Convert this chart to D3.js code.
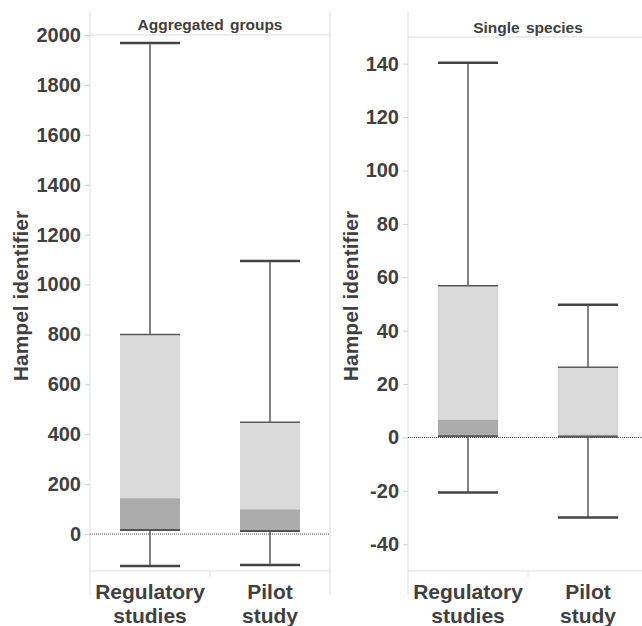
<!DOCTYPE html>
<html>
<head>
<meta charset="utf-8">
<script src="https://cdn.jsdelivr.net/npm/d3@7"></script>
<style>
  body { margin: 0; background: #fff; }
  svg { display: block; font-family: "Liberation Sans", Arial, sans-serif; }
</style>
</head>
<body>
<div id="chart"></div>
<script>
// categories on the x axis (same for both panels)
const categories = ["Regulatory studies", "Pilot study"];

// aggregated groups panel
const aggWhiskerLow = [-128, -124];
const aggBoxLow = [16, 12];
const aggMid = [144, 99];
const aggBoxHigh = [800, 448];
const aggWhiskerHigh = [1968, 1094];
const aggTicks = [0, 200, 400, 600, 800, 1000, 1200, 1400, 1600, 1800, 2000];

// single species panel
const spWhiskerLow = [-20.6, -30];
const spBoxLow = [0.5, 0.3];
const spMid = [6.7, 1.1];
const spBoxHigh = [56.8, 26.3];
const spWhiskerHigh = [140.4, 49.7];
const spTicks = [-40, -20, 0, 20, 40, 60, 80, 100, 120, 140];

const width = 642, height = 626;
const textColor = "#404040";

const svg = d3.select("#chart").append("svg")
    .attr("width", width)
    .attr("height", height);

// one panel = one box plot with its own y scale
const panels = [
    { title: "Aggregated groups", x0: 90, top: 35, domain: [-148, 2000], ticks: aggTicks,
      lo: aggWhiskerLow, q1: aggBoxLow, mid: aggMid, q3: aggBoxHigh, hi: aggWhiskerHigh,
      titleY: 30, labelX: 20, rightLine: 330 },
    { title: "Single species", x0: 408, top: 37, domain: [-50, 150], ticks: spTicks,
      lo: spWhiskerLow, q1: spBoxLow, mid: spMid, q3: spBoxHigh, hi: spWhiskerHigh,
      titleY: 33, labelX: 350, rightLine: null }
];

const plotBottom = 571;
const plotWidth = 240;

panels.forEach(p => {
    const g = svg.append("g");
    const y = d3.scaleLinear().domain(p.domain).range([plotBottom, p.top]);
    const x = d3.scaleBand().domain(categories)
        .range([p.x0, p.x0 + plotWidth])
        .paddingInner(0.5)
        .paddingOuter(0.25);

    // frame lines (light grey)
    g.append("line")
        .attr("x1", p.x0).attr("x2", p.x0)
        .attr("y1", 12).attr("y2", 595)
        .attr("stroke", "#dcdcdc");
    g.append("line")
        .attr("x1", p.x0).attr("x2", p.x0 + plotWidth)
        .attr("y1", p.top).attr("y2", p.top)
        .attr("stroke", "#dcdcdc");
    g.append("line")
        .attr("x1", p.x0).attr("x2", p.x0 + plotWidth)
        .attr("y1", plotBottom).attr("y2", plotBottom)
        .attr("stroke", "#dcdcdc");
    g.append("line")
        .attr("x1", p.x0 + plotWidth / 2).attr("x2", p.x0 + plotWidth / 2)
        .attr("y1", plotBottom).attr("y2", plotBottom + 6)
        .attr("stroke", "#dcdcdc");
    if (p.rightLine) {
        g.append("line")
            .attr("x1", p.rightLine).attr("x2", p.rightLine)
            .attr("y1", 12).attr("y2", 595)
            .attr("stroke", "#dcdcdc");
    }

    // panel header
    g.append("text")
        .attr("x", p.x0 + plotWidth / 2)
        .attr("y", p.titleY)
        .attr("text-anchor", "middle")
        .attr("font-size", 15.5)
        .attr("font-weight", "bold")
        .attr("fill", textColor)
        .attr("word-spacing", 2)
        .text(p.title);

    // y axis (plain hyphen for negatives, like the original)
    const axis = g.append("g")
        .attr("transform", `translate(${p.x0},0)`)
        .call(d3.axisLeft(y).tickValues(p.ticks).tickSize(5).tickPadding(4).tickFormat(d => String(d)));
    axis.select(".domain").remove();
    axis.selectAll(".tick line").attr("stroke", "#cfcfcf");
    axis.selectAll(".tick text")
        .attr("font-size", 20)
        .attr("font-weight", "bold")
        .attr("font-family", "Liberation Sans, Arial, sans-serif")
        .attr("fill", textColor);

    // y axis title
    g.append("text")
        .attr("transform", `translate(${p.labelX},296) rotate(-90)`)
        .attr("text-anchor", "middle")
        .attr("dominant-baseline", "central")
        .attr("font-size", 21)
        .attr("font-weight", "bold")
        .attr("fill", textColor)
        .text("Hampel identifier");

    // category labels, two lines each
    categories.forEach(c => {
        const words = c.split(" ");
        words.forEach((w, i) => {
            g.append("text")
                .attr("x", x(c) + x.bandwidth() / 2)
                .attr("y", 599 + i * 24)
                .attr("text-anchor", "middle")
                .attr("font-size", 21)
                .attr("font-weight", "bold")
                .attr("fill", textColor)
                .text(w);
        });
    });

    // boxes
    categories.forEach((c, i) => {
        const bx = x(c), bw = x.bandwidth(), cx = bx + bw / 2;

        // whiskers
        g.append("line")
            .attr("x1", cx).attr("x2", cx)
            .attr("y1", y(p.hi[i])).attr("y2", y(p.q3[i]))
            .attr("stroke", "#5a5a5a").attr("stroke-width", 1.5);
        g.append("line")
            .attr("x1", cx).attr("x2", cx)
            .attr("y1", y(p.q1[i])).attr("y2", y(p.lo[i]))
            .attr("stroke", "#5a5a5a").attr("stroke-width", 1.5);
        [p.hi[i], p.lo[i]].forEach(v => {
            g.append("line")
                .attr("x1", bx).attr("x2", bx + bw)
                .attr("y1", y(v)).attr("y2", y(v))
                .attr("stroke", "#444").attr("stroke-width", 2.5);
        });

        // upper part (light) and lower part (dark)
        g.append("rect")
            .attr("x", bx).attr("width", bw)
            .attr("y", y(p.q3[i])).attr("height", y(p.mid[i]) - y(p.q3[i]))
            .attr("fill", "#dadada");
        g.append("rect")
            .attr("x", bx).attr("width", bw)
            .attr("y", y(p.mid[i])).attr("height", y(p.q1[i]) - y(p.mid[i]))
            .attr("fill", "#ababab");

        g.append("line")
            .attr("x1", bx).attr("x2", bx + bw)
            .attr("y1", y(p.q3[i])).attr("y2", y(p.q3[i]))
            .attr("stroke", "#5a5a5a").attr("stroke-width", 1.5);
        g.append("line")
            .attr("x1", bx).attr("x2", bx + bw)
            .attr("y1", y(p.q1[i])).attr("y2", y(p.q1[i]))
            .attr("stroke", "#555").attr("stroke-width", 2);
    });

    // dotted zero line
    g.append("line")
        .attr("x1", p.x0).attr("x2", p.x0 + plotWidth)
        .attr("y1", y(0)).attr("y2", y(0))
        .attr("stroke", "#555")
        .attr("stroke-dasharray", "1,1");
});
</script>
</body>
</html>
